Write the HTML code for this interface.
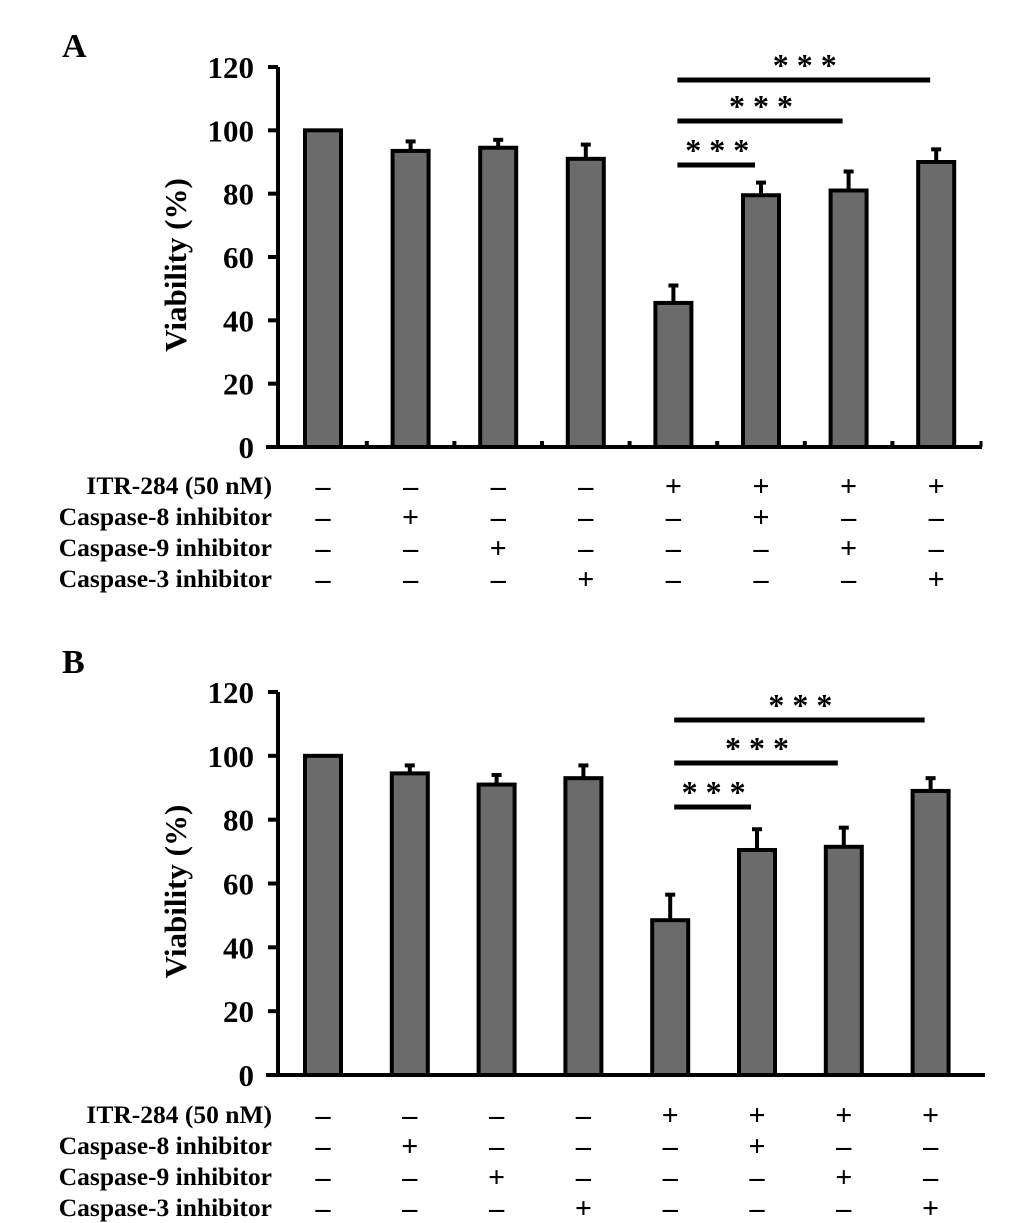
<!DOCTYPE html>
<html><head><meta charset="utf-8"><style>
body{margin:0;background:#fff}
svg{display:block}
text{font-family:"Liberation Serif",serif;font-weight:bold;fill:#000}
</style></head><body>
<svg id="chart" width="1033" height="1223" viewBox="0 0 1033 1223"></svg>
<script>
const categories = ["G1","G2","G3","G4","G5","G6","G7","G8"];
const valuesA = [100, 93.5, 94.5, 91, 45.5, 79.5, 81, 90];
const errorsA = [0, 3, 2.5, 4.5, 5.5, 4, 6, 4];
const valuesB = [100, 94.5, 91, 93, 48.5, 70.5, 71.5, 89];
const errorsB = [0, 2.5, 3, 4, 8, 6.5, 6, 4];
const yTicks = [0, 20, 40, 60, 80, 100, 120];
const rowLabels = ["ITR-284 (50 nM)","Caspase-8 inhibitor","Caspase-9 inhibitor","Caspase-3 inhibitor"];
const rowSigns = [
  ["–","–","–","–","+","+","+","+"],
  ["–","+","–","–","–","+","–","–"],
  ["–","–","+","–","–","–","+","–"],
  ["–","–","–","+","–","–","–","+"]
];
const sigPairsA = [[4,7],[4,6],[4,5]];
const sigPairsB = [[4,7],[4,6],[4,5]];

const NS="http://www.w3.org/2000/svg";
const svg=document.getElementById('chart');
function el(tag,attrs,parent){const e=document.createElementNS(NS,tag);for(const k in attrs)e.setAttribute(k,attrs[k]);(parent||svg).appendChild(e);return e;}

function panel(cfg){
  const g=el('g',{});
  
  
  const y=v=>cfg.y0-(v/120)*(cfg.y0-cfg.y120);
  const x=i=>cfg.x0c+i*cfg.step;
  const L=el('text',{x:cfg.letterX,y:cfg.letterY,'font-size':34},g);L.textContent=cfg.letter;
  
  
  const ax=el('path',{d:`M${cfg.axX},${cfg.y120} V${cfg.y0} M${cfg.axX-12},${cfg.y0} H${cfg.axEnd}`,stroke:'#000','stroke-width':4,fill:'none'},g);
  
  
  if(cfg.endTick){el('line',{x1:cfg.axEnd-1,y1:cfg.y0,x2:cfg.axEnd-1,y2:cfg.y0-6,stroke:'#000','stroke-width':3},g);}
  yTicks.forEach(t=>{
    el('line',{x1:cfg.axX-10,y1:y(t),x2:cfg.axX,y2:y(t),stroke:'#000','stroke-width':4},g);
    const tx=el('text',{x:cfg.axX-24,y:y(t)+11,'font-size':31,'text-anchor':'end'},g);tx.textContent=t;
    
    
  });
  const yt=el('text',{x:0,y:0,'font-size':31,'text-anchor':'middle',transform:`translate(${cfg.axX-92},${(cfg.y0+cfg.y120)/2+8}) rotate(-90)`},g);
  yt.textContent='Viability (%)';
  
  
  if(cfg.dots){for(let i=0;i<7;i++){el('rect',{x:(x(i)+x(i+1))/2-2,y:cfg.y0-6,width:4,height:5,fill:'#000'},g);}}
  cfg.values.forEach((v,i)=>{
    const bw=36, top=y(v);
    if(cfg.errors[i]>0){
      el('line',{x1:x(i),y1:top,x2:x(i),y2:y(v+cfg.errors[i]),stroke:'#000','stroke-width':4},g);
      el('line',{x1:x(i)-5,y1:y(v+cfg.errors[i]),x2:x(i)+5,y2:y(v+cfg.errors[i]),stroke:'#000','stroke-width':4},g);
    }
    const b=el('rect',{x:x(i)-bw/2,y:top,width:bw,height:cfg.y0-top,fill:'#6b6b6b',stroke:'#000','stroke-width':4},g);
    
    
  });
  cfg.sig.forEach((p,k)=>{
    const ly=cfg.sigY[k];
    const l=el('line',{x1:x(p[0])+4,y1:ly,x2:x(p[1])-6,y2:ly,stroke:'#000','stroke-width':5},g);
    
    
    const s=el('text',{x:(x(p[0])+x(p[1]))/2,y:ly-4,'font-size':32,'text-anchor':'middle','font-family':'Liberation Sans'},g);
    s.textContent='* * *';
    
    
  });
  rowLabels.forEach((lab,r)=>{
    const ry=cfg.rowY+r*31;
    const t=el('text',{x:272,y:ry,'font-size':25.5,'text-anchor':'end'},g);t.textContent=lab;
    
    
    rowSigns[r].forEach((s,i)=>{
      const st=el('text',{x:x(i),y:ry+2,'font-size':30,'text-anchor':'middle'},g);
      st.setAttribute('font-weight','normal');st.textContent=s;
      
      
    });
  });
}
panel({letter:'A',letterX:62,letterY:57,y0:447,y120:67,axX:278,axEnd:982,x0c:323,step:87.6,values:valuesA,errors:errorsA,sig:sigPairsA,sigY:[80,121,165],rowY:494,dots:true,endTick:true});
panel({letter:'B',letterX:62,letterY:673,y0:1075,y120:692,axX:278,axEnd:985,x0c:323,step:86.8,values:valuesB,errors:errorsB,sig:sigPairsB,sigY:[720,763,807],rowY:1123,dots:false,endTick:false});
</script>
</body></html>
